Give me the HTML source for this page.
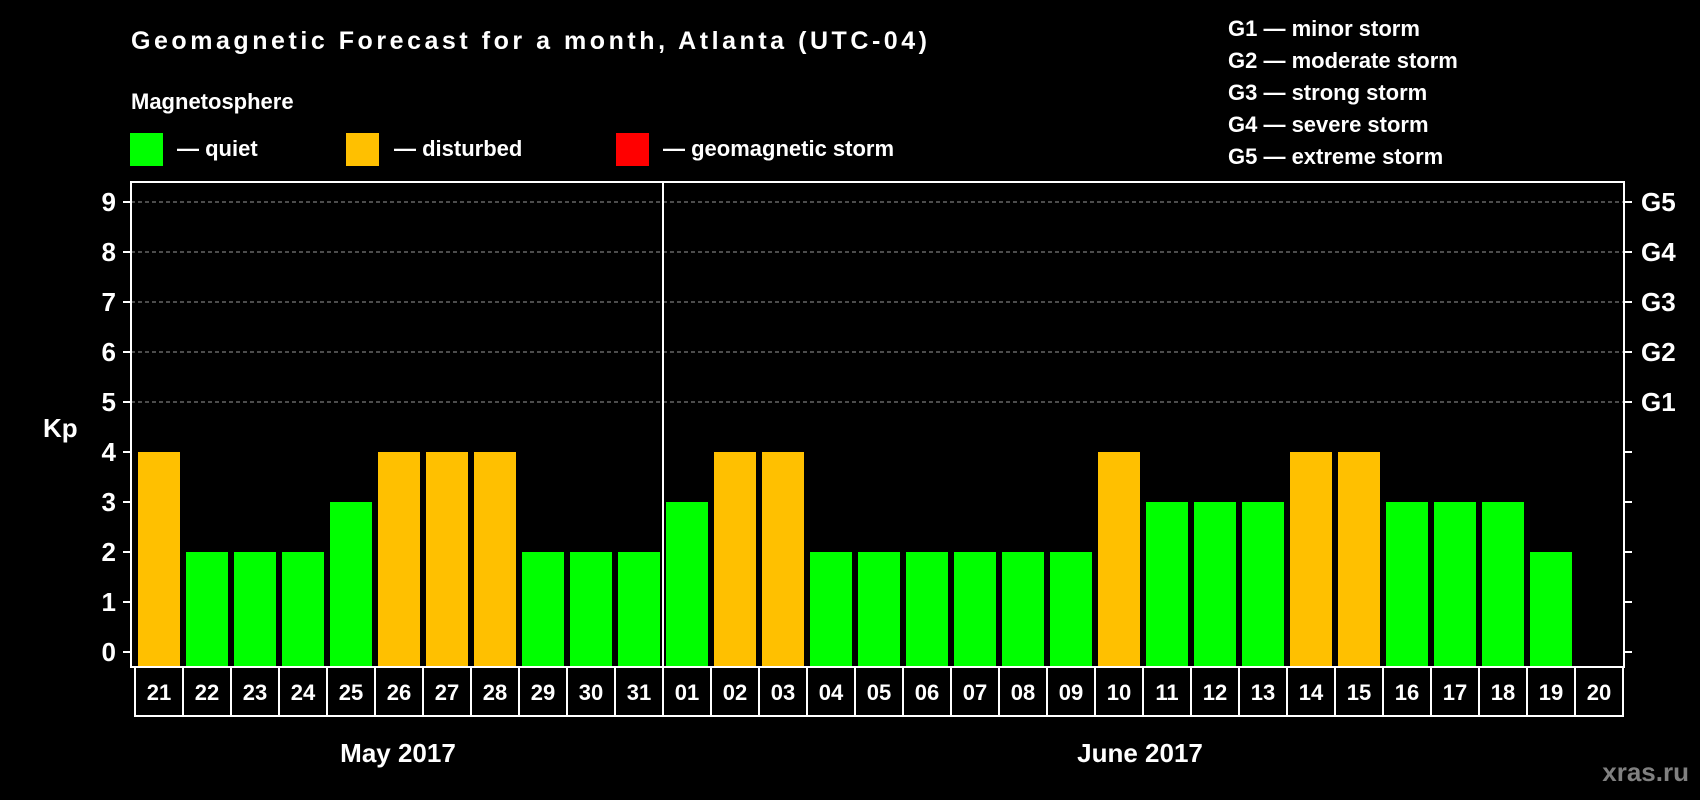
<!DOCTYPE html>
<html><head><meta charset="utf-8"><style>
html,body{margin:0;padding:0;background:#000;}
svg{display:block;font-family:"Liberation Sans",Arial,sans-serif;font-weight:bold;}
</style></head><body>
<svg id="chart" width="1700" height="800" viewBox="0 0 1700 800">
<rect width="1700" height="800" fill="#000"/>
<text x="131" y="49" fill="#fff" font-size="25" textLength="796">Geomagnetic Forecast for a month, Atlanta (UTC-04)</text>
<text x="131" y="109" fill="#fff" font-size="22">Magnetosphere</text>
<g>
<rect x="130" y="133" width="33" height="33" fill="#00ff00"/>
<text x="177" y="156" fill="#fff" font-size="22">— quiet</text>
<rect x="346" y="133" width="33" height="33" fill="#ffc000"/>
<text x="394" y="156" fill="#fff" font-size="22">— disturbed</text>
<rect x="616" y="133" width="33" height="33" fill="#ff0000"/>
<text x="663" y="156" fill="#fff" font-size="22">— geomagnetic storm</text>
</g>
<g fill="#fff" font-size="22">
<text x="1228" y="36">G1 — minor storm</text>
<text x="1228" y="68">G2 — moderate storm</text>
<text x="1228" y="100">G3 — strong storm</text>
<text x="1228" y="132">G4 — severe storm</text>
<text x="1228" y="164">G5 — extreme storm</text>
</g>
<text x="43" y="437" fill="#fff" font-size="26">Kp</text>
<text x="398" y="762" fill="#fff" font-size="26" text-anchor="middle">May 2017</text>
<text x="1140" y="762" fill="#fff" font-size="26" text-anchor="middle">June 2017</text>
<text x="1689" y="781" fill="#808080" font-size="26" text-anchor="end">xras.ru</text>
<g id="plot"></g>
</svg>
<script>
const days = ["21","22","23","24","25","26","27","28","29","30","31","01","02","03","04","05","06","07","08","09","10","11","12","13","14","15","16","17","18","19","20"];
const kpValues = [4,2,2,2,3,4,4,4,2,2,2,3,4,4,2,2,2,2,2,2,4,3,3,3,4,4,3,3,3,2,null];
const yTicks = [0,1,2,3,4,5,6,7,8,9];
const gLabels = ["G1","G2","G3","G4","G5"];
const gLevels = [5,6,7,8,9];
const monthSplitIndex = 11;

const NS="http://www.w3.org/2000/svg";
const plot=document.getElementById('plot');
const L=131,R=1624,T=182,B=667,cellX0=135,pitch=48;
const y=v=>652-v*50;
const x=i=>cellX0+i*pitch;
function mk(tag,attrs){const e=document.createElementNS(NS,tag);for(const k in attrs)e.setAttribute(k,attrs[k]);plot.appendChild(e);return e;}

yTicks.forEach(v=>{
  if(v>=5){const g=mk('line',{x1:L,x2:R,y1:y(v),y2:y(v),stroke:'#999','stroke-dasharray':'4,3','stroke-width':1});
  
  }
  const t=mk('line',{x1:L-8,x2:L,y1:y(v),y2:y(v),stroke:'#fff','stroke-width':2});
  
  
  const rt=mk('line',{x1:R,x2:R+8,y1:y(v),y2:y(v),stroke:'#fff','stroke-width':2});
  
  
  const lb=mk('text',{x:116,y:y(v)+9,fill:'#fff','font-size':26,'text-anchor':'end'});
  lb.textContent=v;
  
  
});
gLabels.forEach((g,i)=>{
  const t=mk('text',{x:1641,y:y(gLevels[i])+9,fill:'#fff','font-size':26});
  t.textContent=g;
  
  
});
kpValues.forEach((v,i)=>{
  if(v==null)return;
  const col=v>=5?'#ff0000':(v>=4?'#ffc000':'#00ff00');
  const b=mk('rect',{x:x(i)+3,y:y(v),width:42,height:B-y(v),fill:col});
  
  
});
const frame=mk('rect',{x:L,y:T,width:R-L,height:B-T,fill:'none',stroke:'#fff','stroke-width':2});


const div=mk('line',{x1:x(monthSplitIndex),x2:x(monthSplitIndex),y1:T,y2:B,stroke:'#fff','stroke-width':2});


days.forEach((d,i)=>{
  const c=mk('rect',{x:x(i),y:B,width:pitch,height:49,fill:'#000',stroke:'#fff','stroke-width':2});
  
  
  const t=mk('text',{x:x(i)+pitch/2,y:B+33,fill:'#fff','font-size':22,'text-anchor':'middle'});
  t.textContent=d;
  
  
});
</script>
</body></html>
